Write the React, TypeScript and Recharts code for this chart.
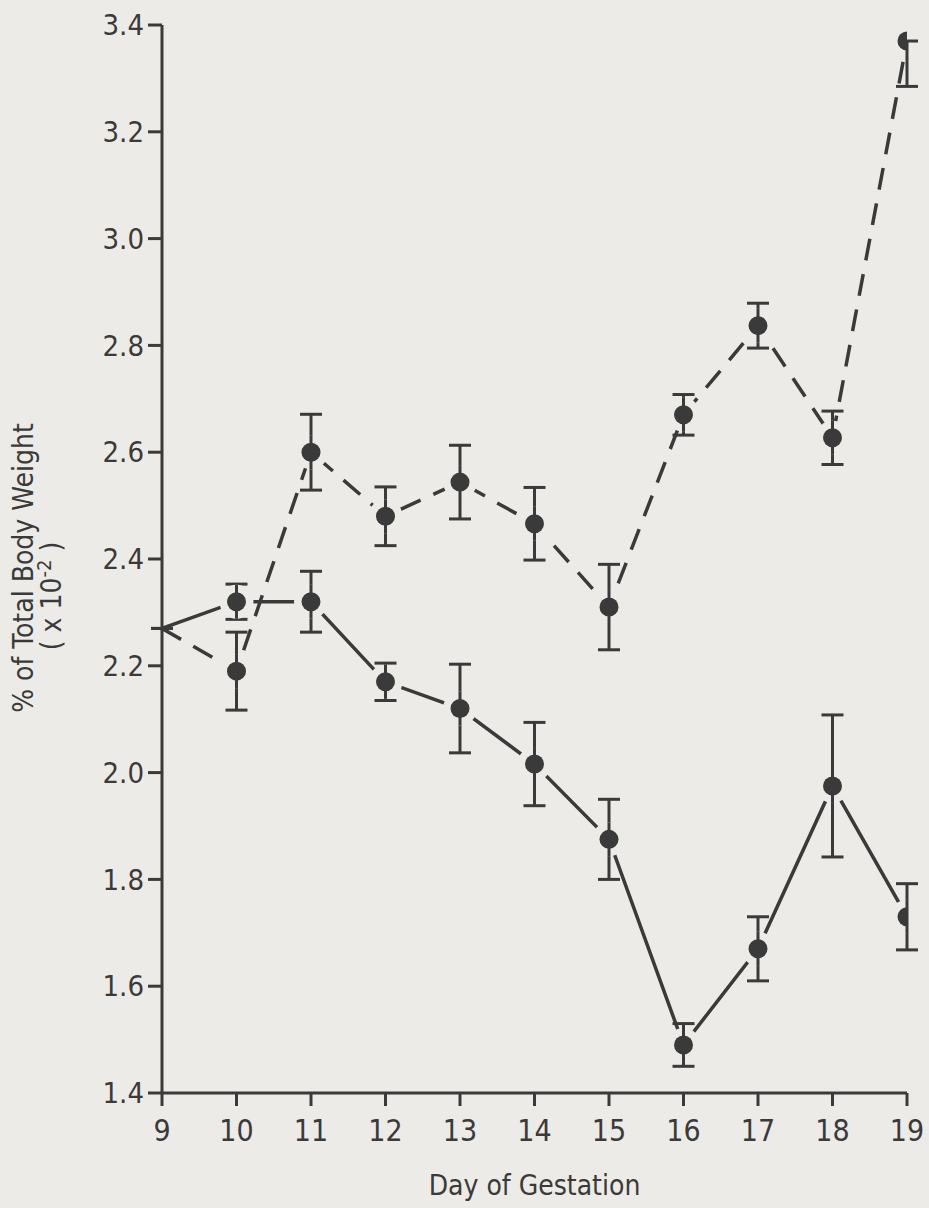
import React from 'react';
import { ComposedChart, Line, ErrorBar, XAxis, YAxis, Label } from 'recharts';

const days = [9, 10, 11, 12, 13, 14, 15, 16, 17, 18, 19];
const solidMean = [2.27, 2.32, 2.32, 2.17, 2.12, 2.016, 1.875, 1.49, 1.67, 1.975, 1.73];
const solidErr = [0, 0.033, 0.057, 0.035, 0.083, 0.078, 0.075, 0.04, 0.06, 0.133, 0.062];
const dashedMean = [2.27, 2.19, 2.6, 2.48, 2.544, 2.466, 2.31, 2.67, 2.837, 2.627, 3.37];
const dashedErrLow = [0, 0.073, 0.071, 0.055, 0.069, 0.068, 0.08, 0.038, 0.042, 0.05, 0.085];
// upper bar at day 19 runs into the top of the frame and is not drawn
const dashedErrHigh = [0, 0.073, 0.071, 0.055, 0.069, 0.068, 0.08, 0.038, 0.042, 0.05, 0];

const xTicks = [9, 10, 11, 12, 13, 14, 15, 16, 17, 18, 19];
const yTicks = [1.4, 1.6, 1.8, 2.0, 2.2, 2.4, 2.6, 2.8, 3.0, 3.2, 3.4];

const BG = '#ecebe8';
const INK = '#3a3a3a';
const FONT = '"Liberation Sans Narrow", "DejaVu Sans Condensed", "Roboto", sans-serif';

const data = days.map((d, i) => ({
  day: d,
  solid: solidMean[i],
  solidErr: solidErr[i],
  dashed: dashedMean[i],
  dashedErr: [dashedErrLow[i], dashedErrHigh[i]],
}));

// filled marker with a paper-coloured halo so the lines stop short of the points
const makeDot = (key: 'solidErr' | 'dashedErr') => (props: any) => {
  const { cx, cy, index, payload } = props;
  if (index === 0 || cx == null || cy == null) return <g key={`d-${key}-${index}`} />;
  const e = payload[key];
  const low = Array.isArray(e) ? e[0] : e;
  const high = Array.isArray(e) ? e[1] : e;
  return (
    <g key={`d-${key}-${index}`}>
      <circle cx={cx} cy={cy} r={17} fill={BG} />
      {high > 0 && <line x1={cx} y1={cy} x2={cx} y2={cy - 17} stroke={INK} strokeWidth={3} />}
      {low > 0 && <line x1={cx} y1={cy} x2={cx} y2={cy + 17} stroke={INK} strokeWidth={3} />}
      <circle cx={cx} cy={cy} r={9.5} fill={INK} />
    </g>
  );
};

const App = () => {
  return (
    <div style={{ position: 'absolute', left: 0, top: 0, width: 929, height: 1208, background: BG }}>
      <ComposedChart
        width={929}
        height={1208}
        data={data}
        margin={{ top: 25, right: 22, bottom: 55, left: 0 }}
      >
        <XAxis
          dataKey="day"
          type="number"
          domain={[9, 19]}
          ticks={xTicks}
          allowDataOverflow
          height={60}
          stroke={INK}
          strokeWidth={3}
          tickSize={13}
          tickMargin={14}
          tick={{ fill: INK, fontSize: 30, fontFamily: FONT }}
          tickLine={{ stroke: INK, strokeWidth: 3 }}
        >
          <Label value="Day of Gestation" position="insideBottom" offset={-42} fill={INK} fontSize={28} fontFamily={FONT} />
        </XAxis>
        <YAxis
          type="number"
          domain={[1.4, 3.4]}
          ticks={yTicks}
          allowDataOverflow
          width={162}
          stroke={INK}
          strokeWidth={3}
          tickSize={14}
          tickMargin={4}
          tickFormatter={(v: number) => v.toFixed(1)}
          tick={{ fill: INK, fontSize: 29, fontFamily: FONT }}
          tickLine={{ stroke: INK, strokeWidth: 3 }}
        />
        <Line
          dataKey="solid"
          stroke={INK}
          strokeWidth={3.5}
          dot={makeDot('solidErr')}
          activeDot={false}
          type="linear"
          isAnimationActive={false}
        >
          <ErrorBar dataKey="solidErr" direction="y" width={11} stroke={INK} strokeWidth={3} />
        </Line>
        <Line
          dataKey="dashed"
          stroke={INK}
          strokeWidth={3.5}
          strokeDasharray="22 14"
          dot={makeDot('dashedErr')}
          activeDot={false}
          type="linear"
          isAnimationActive={false}
        >
          <ErrorBar dataKey="dashedErr" direction="y" width={11} stroke={INK} strokeWidth={3} />
        </Line>
      </ComposedChart>
      <div
        style={{
          position: 'absolute',
          left: 38,
          top: 568,
          transform: 'translate(-50%, -50%) rotate(-90deg)',
          whiteSpace: 'nowrap',
          fontFamily: FONT,
          fontSize: 28,
          color: INK,
          textAlign: 'center',
          lineHeight: '28px',
        }}
      >
        <div>% of Total Body Weight</div>
        <div style={{ marginRight: 56 }}>
          ( x 10<sup style={{ fontSize: 20, lineHeight: 0 }}>-2</sup> )
        </div>
      </div>
    </div>
  );
};

export default App;
